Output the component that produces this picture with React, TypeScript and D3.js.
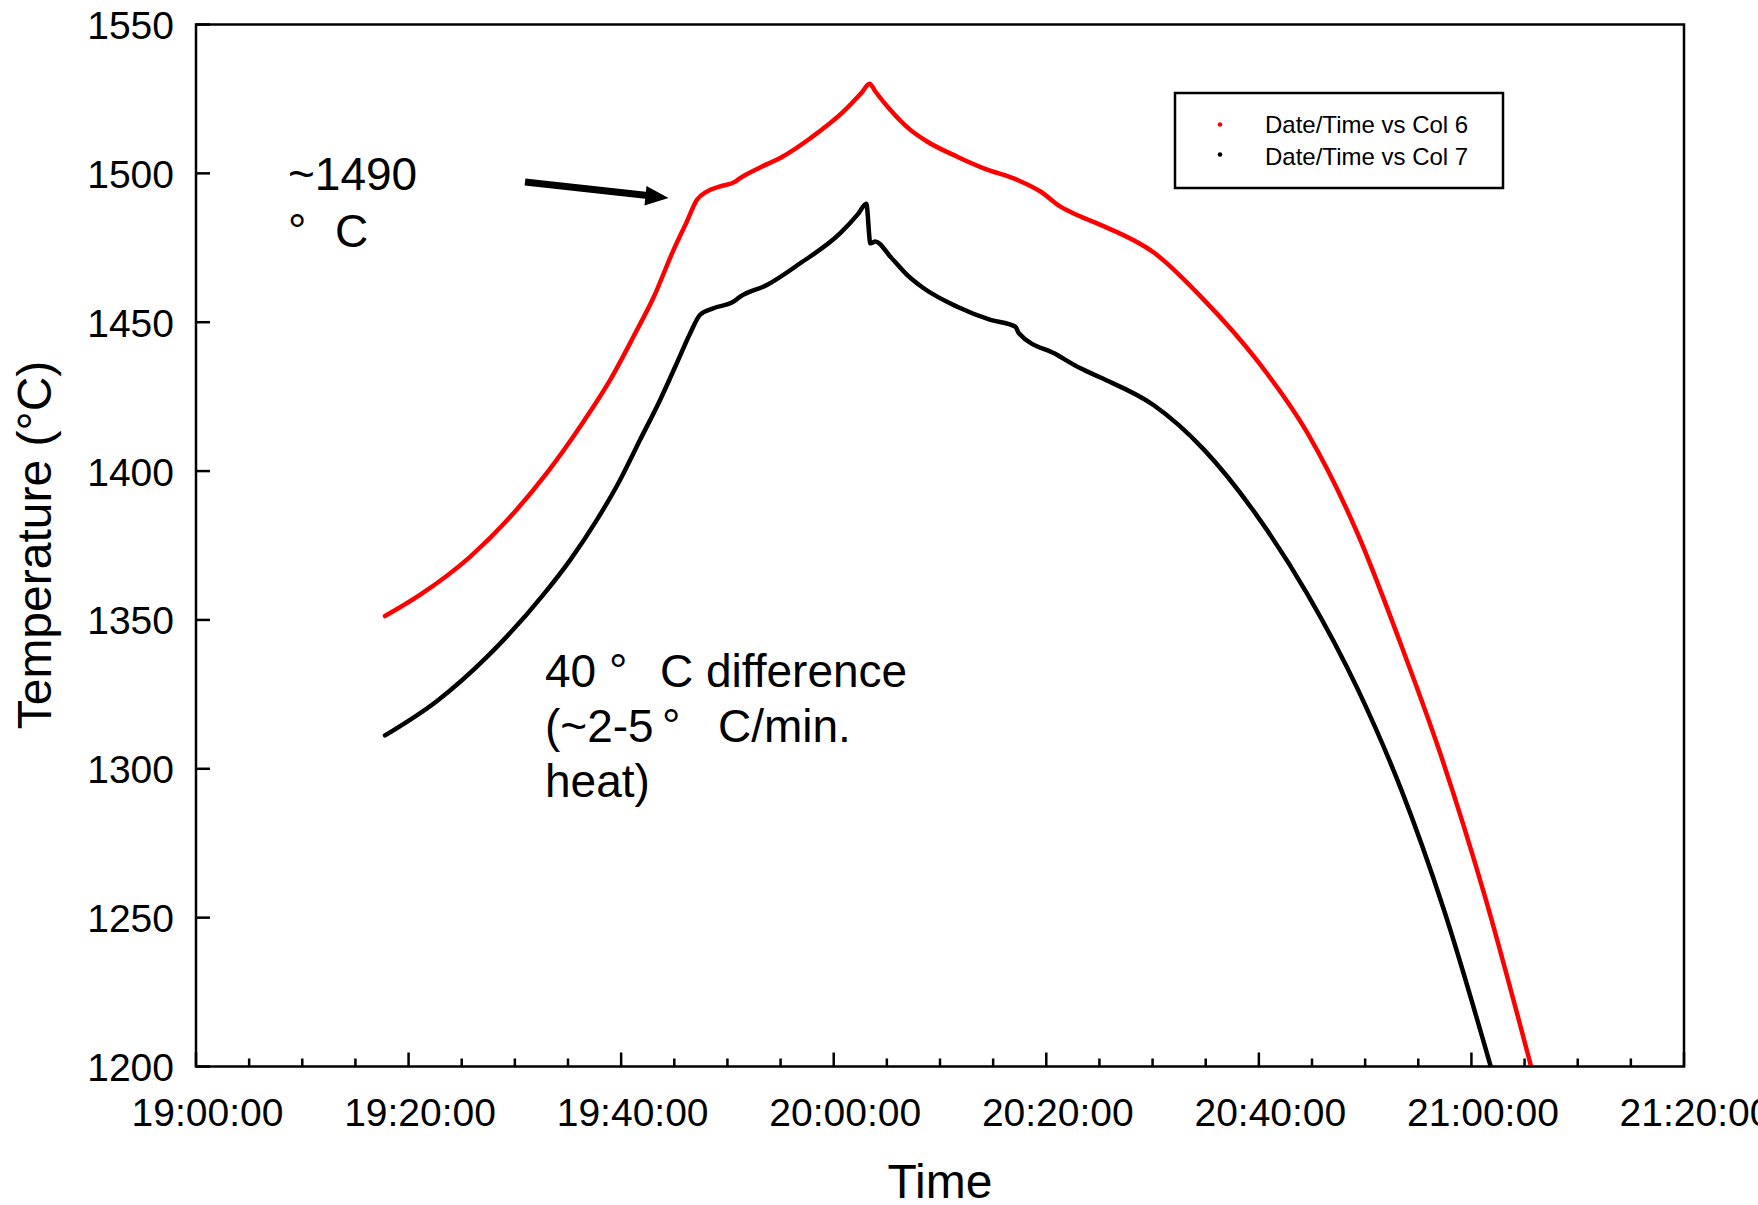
import React, { useEffect } from "react";
import * as d3 from "d3";

// ---- data ----
const col6Times = [
  "19:17:47", "19:21:04", "19:25:47", "19:29:52", "19:33:00", "19:36:08", "19:38:58",
  "19:41:10", "19:43:02", "19:44:56", "19:46:11", "19:47:08", "19:48:04", "19:49:19",
  "19:50:44", "19:51:12", "19:53:05", "19:55:08", "19:57:48", "20:00:56", "20:02:36",
  "20:03:23", "20:03:55", "20:05:20", "20:07:13", "20:08:47", "20:11:37", "20:14:07",
  "20:17:16", "20:19:27", "20:21:20", "20:23:13", "20:25:06", "20:30:07", "20:34:50",
  "20:39:52", "20:44:34", "20:49:16", "20:53:21", "20:57:07", "21:01:12", "21:05:36",
];
const col6Temps = [
  1351.3, 1358.4, 1371.2, 1385.8, 1399.3, 1414.9, 1430.6,
  1445.2, 1458.2, 1474.3, 1483.8, 1491.1, 1493.9, 1495.6,
  1497.2, 1498.4, 1502.0, 1505.5, 1511.8, 1520.8, 1527.0,
  1530.1, 1527.5, 1521.3, 1514.6, 1510.7, 1505.6, 1501.7,
  1497.8, 1493.9, 1488.8, 1485.5, 1482.7, 1473.4, 1457.5,
  1437.0, 1412.8, 1379.2, 1341.9, 1304.6, 1258.0, 1200.2,
];
const col7Times = [
  "19:17:47", "19:22:39", "19:27:21", "19:32:41", "19:35:12", "19:37:43", "19:39:54",
  "19:41:47", "19:43:40", "19:45:14", "19:46:30", "19:47:26", "19:48:41", "19:50:34",
  "19:51:12", "19:53:43", "19:56:51", "20:00:37", "20:02:18", "20:03:04", "20:03:27",
  "20:03:55", "20:05:20", "20:06:54", "20:08:28", "20:11:37", "20:14:45", "20:17:06",
  "20:17:25", "20:21:02", "20:23:13", "20:25:06", "20:30:07", "20:34:50", "20:39:52",
  "20:44:34", "20:49:16", "20:53:21", "20:57:26", "21:01:50",
];
const col7Temps = [
  1311.2, 1322.7, 1337.5, 1358.5, 1370.1, 1383.6, 1397.0,
  1410.5, 1423.9, 1436.2, 1446.3, 1452.5, 1454.7, 1456.9,
  1458.6, 1462.5, 1469.8, 1479.9, 1486.4, 1489.8, 1476.5,
  1477.1, 1472.0, 1465.9, 1461.4, 1455.2, 1450.8, 1448.5,
  1446.3, 1439.0, 1434.5, 1431.4, 1422.1, 1407.2, 1384.8,
  1358.7, 1327.0, 1293.4, 1252.4, 1199.8,
];
const xDomain = ["19:00:00", "21:20:00"];
const yDomain = [1200, 1550];
const yTicks = [1200, 1250, 1300, 1350, 1400, 1450, 1500, 1550];
const seriesNames = ["Date/Time vs Col 6", "Date/Time vs Col 7"];
const seriesColors = ["#ff0000", "#000000"];
const note1 = ["~1490", "°", "C"];
const note2 = [
  ["40 ", "°", "C difference"],
  ["(~2-5 ", "°", "C/min."],
  ["heat)", "", ""],
];
const xTitle = "Time";
const yTitle = "Temperature (°C)";

// ---- layout ----
const W = 1758;
const H = 1205;
const L = 196;
const R = 1684;
const T = 24.5;
const B = 1066.5;
const FONT = "'Liberation Sans', Arial, Helvetica, sans-serif";

const parse = d3.timeParse("%H:%M:%S");

export default function App() {
  useEffect(() => {
    document.body.style.margin = "0";
    document.body.style.overflow = "hidden";
  }, []);

  const x = d3
    .scaleTime()
    .domain(xDomain.map((s) => parse(s) as Date))
    .range([L, R]);
  const y = d3.scaleLinear().domain(yDomain).range([B, T]);

  const majorX = x.ticks(d3.timeMinute.every(20) as any);
  const minorX = x
    .ticks(d3.timeMinute.every(5) as any)
    .filter((d) => d.getMinutes() % 20 !== 0);
  const fmt = d3.timeFormat("%H:%M:%S");

  const series = [
    { times: col6Times, temps: col6Temps },
    { times: col7Times, temps: col7Temps },
  ].map((s) =>
    s.times.map((t, i) => ({ t: parse(t) as Date, v: s.temps[i] }))
  );

  const line = d3
    .line<{ t: Date; v: number }>()
    .x((d) => x(d.t))
    .y((d) => y(d.v))
    .curve(d3.curveMonotoneX);

  return (
    <svg
      width={W}
      height={H}
      style={{ position: "absolute", left: 0, top: 0, background: "#fff" }}
      fontFamily={FONT}
    >
      <rect x={0} y={0} width={W} height={H} fill="#fff" />
      <defs>
        <clipPath id="plotclip">
          <rect x={L} y={T} width={R - L} height={B - T} />
        </clipPath>
      </defs>

      {/* series lines */}
      <g clipPath="url(#plotclip)">
        {series.map((s, i) => (
          <path
            key={i}
            d={line(s) || ""}
            fill="none"
            stroke={seriesColors[i]}
            strokeWidth={4.5}
            strokeLinejoin="round"
            strokeLinecap="round"
          />
        ))}
      </g>

      {/* frame */}
      <rect
        x={L}
        y={T}
        width={R - L}
        height={B - T}
        fill="none"
        stroke="#000"
        strokeWidth={2.5}
      />

      {/* y ticks */}
      {yTicks.map((v) => (
        <g key={v}>
          <line x1={L} x2={L + 14} y1={y(v)} y2={y(v)} stroke="#000" strokeWidth={2.5} />
          <text x={174} y={y(v) + 14.5} textAnchor="end" fontSize={39} fill="#000">
            {v}
          </text>
        </g>
      ))}

      {/* x ticks */}
      {minorX.map((d, i) => (
        <line key={"m" + i} x1={x(d)} x2={x(d)} y1={B} y2={B - 8} stroke="#000" strokeWidth={2.5} />
      ))}
      {majorX.map((d, i) => (
        <g key={"M" + i}>
          <line x1={x(d)} x2={x(d)} y1={B} y2={B - 14} stroke="#000" strokeWidth={2.5} />
          <text x={x(d) + 11.5} y={1126} textAnchor="middle" fontSize={39} fill="#000">
            {fmt(d)}
          </text>
        </g>
      ))}

      {/* axis titles */}
      <text x={(L + R) / 2} y={1198} textAnchor="middle" fontSize={48} fill="#000">
        {xTitle}
      </text>
      <text
        transform={`translate(50.5,545) rotate(-90)`}
        textAnchor="middle"
        fontSize={48}
        fill="#000"
      >
        {yTitle}
      </text>

      {/* legend */}
      <rect x={1175} y={93} width={328} height={95} fill="#fff" stroke="#000" strokeWidth={2.5} />
      {seriesNames.map((n, i) => (
        <g key={n}>
          <circle cx={1220} cy={124.5 + i * 30} r={2.3} fill={seriesColors[i]} />
          <text x={1265} y={133.3 + i * 31.7} fontSize={24} fill="#000">
            {n}
          </text>
        </g>
      ))}

      {/* annotation ~1490 °C */}
      <text x={288} y={190} fontSize={46} fill="#000">
        {note1[0]}
      </text>
      <text x={288} y={247} fontSize={46} fill="#000">
        {note1[1]}
      </text>
      <text x={335} y={247} fontSize={46} fill="#000">
        {note1[2]}
      </text>

      {/* arrow */}
      <line x1={525} y1={182} x2={650} y2={195.8} stroke="#000" strokeWidth={7} />
      <polygon points="668.5,198 646.5,186 644.5,205.5" fill="#000" />

      {/* annotation 40 °C difference */}
      {note2.map((ln, i) => (
        <g key={i}>
          <text x={545} y={687 + i * 55} fontSize={46} fill="#000">
            {ln[0]}
          </text>
          {ln[1] && (
            <text x={i === 0 ? 609 : 662} y={687 + i * 55} fontSize={46} fill="#000">
              {ln[1]}
            </text>
          )}
          {ln[2] && (
            <text x={i === 0 ? 660 : 718} y={687 + i * 55} fontSize={46} fill="#000">
              {ln[2]}
            </text>
          )}
        </g>
      ))}
    </svg>
  );
}
